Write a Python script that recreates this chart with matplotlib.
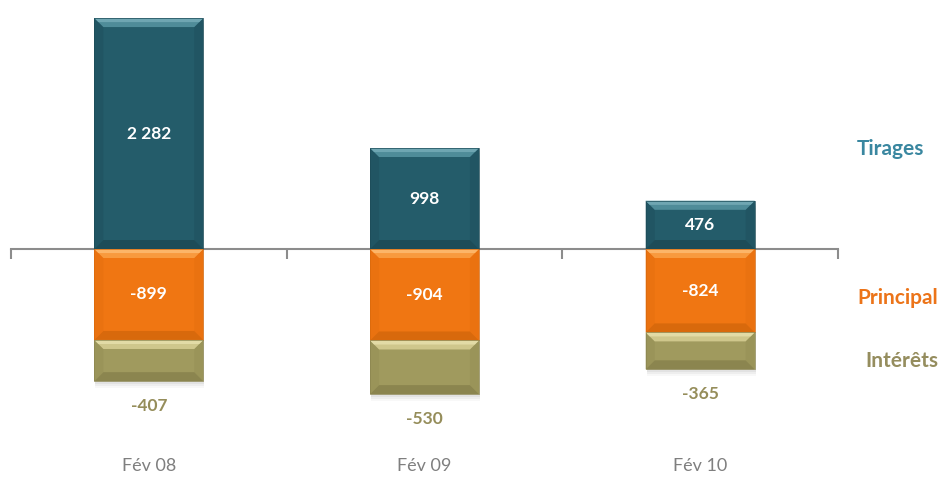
import matplotlib
matplotlib.use("Agg")
import matplotlib.pyplot as plt
from matplotlib.patches import Polygon, Rectangle

plt.rcParams['font.family'] = ['Lato', 'DejaVu Sans']

categories = ["Fév 08", "Fév 09", "Fév 10"]
tirages = [2282, 998, 476]
principal = [-899, -904, -824]
interets = [-407, -530, -365]
tirages_labels = ["2 282", "998", "476"]

W, H = 946, 478
fig = plt.figure(figsize=(W / 100, H / 100), dpi=100)
ax = fig.add_axes([11 / W, 0, 827 / W, 1])

px_per_unit = 0.1012
zero_px = 249
ax.set_xlim(-0.5, 2.5)
ax.set_ylim(-(H - zero_px) / px_per_unit, zero_px / px_per_unit)

# conversions from pixels to data units
dx_px = 3 / 827
dy_px = 1 / px_per_unit

bar_w = 0.395

COLORS = {
    "tirages": dict(face="#245C6A", top="#4F8C99", top2="#6FA6B2", bottom="#1D4C58", side="#215563"),
    "principal": dict(face="#F07612", top="#F89A3E", top2="#FCB568", bottom="#D8690C", side="#EA7210"),
    "interets": dict(face="#A09A5E", top="#CFC78C", top2="#E2DBA6", bottom="#8B854F", side="#9A9459"),
}


def bevel_bar(x, y0, y1, c):
    lo, hi = min(y0, y1), max(y0, y1)
    left, right = x - bar_w / 2, x + bar_w / 2
    # soft shadow
    for k, a in [(7, 0.04), (5, 0.06), (3, 0.08)]:
        ax.add_patch(Rectangle((left + dx_px, lo - k * dy_px), bar_w, hi - lo,
                               facecolor="#555555", alpha=a, edgecolor="none", zorder=2))
    ax.add_patch(Rectangle((left, lo), bar_w, hi - lo, facecolor=c["face"],
                           edgecolor="none", zorder=3))
    bx = 9 * dx_px
    by = min(9 * dy_px, (hi - lo) / 3)
    top = [(left, hi), (right, hi), (right - bx, hi - by), (left + bx, hi - by)]
    bottom = [(left, lo), (right, lo), (right - bx, lo + by), (left + bx, lo + by)]
    lside = [(left, hi), (left + bx, hi - by), (left + bx, lo + by), (left, lo)]
    rside = [(right, hi), (right - bx, hi - by), (right - bx, lo + by), (right, lo)]
    ax.add_patch(Polygon(lside, closed=True, facecolor=c["side"], edgecolor="none", zorder=4))
    ax.add_patch(Polygon(rside, closed=True, facecolor=c["side"], edgecolor="none", zorder=4))
    ax.add_patch(Polygon(bottom, closed=True, facecolor=c["bottom"], edgecolor="none", zorder=4))
    ax.add_patch(Polygon(top, closed=True, facecolor=c["top"], edgecolor="none", zorder=4))
    f = 0.45
    top2 = [(left, hi), (right, hi), (right - bx * f, hi - by * f), (left + bx * f, hi - by * f)]
    ax.add_patch(Polygon(top2, closed=True, facecolor=c["top2"], edgecolor="none", zorder=5))
    ax.add_patch(Rectangle((left, lo), bar_w, hi - lo, facecolor="none",
                           edgecolor=c["bottom"], linewidth=0.5, zorder=5))


for i in range(len(categories)):
    bevel_bar(i, 0, tirages[i], COLORS["tirages"])
    bevel_bar(i, 0, principal[i], COLORS["principal"])
    bevel_bar(i, principal[i], principal[i] + interets[i], COLORS["interets"])

    ax.text(i, tirages[i] / 2, tirages_labels[i], ha="center", va="center",
            color="white", fontsize=12.5, fontweight="bold", zorder=6)
    ax.text(i, principal[i] / 2, f"{principal[i]}", ha="center", va="center",
            color="white", fontsize=12.5, fontweight="bold", zorder=6)
    ax.text(i, principal[i] + interets[i] - 25 * dy_px, f"{interets[i]}", ha="center",
            va="center", color="#958D5A", fontsize=12.5, fontweight="bold", zorder=6)
    ax.text(i, -(466 - zero_px) * dy_px, categories[i], ha="center", va="center",
            color="#7F7F7F", fontsize=13, zorder=6)

# horizontal axis through zero with category separators
for s in ["top", "right", "left"]:
    ax.spines[s].set_visible(False)
ax.spines["bottom"].set_position(("data", 0))
ax.spines["bottom"].set_color("#8C8C8C")
ax.spines["bottom"].set_linewidth(1.5)
ax.spines["bottom"].set_zorder(1)
ax.set_xticks([-0.5, 0.5, 1.5, 2.5])
ax.tick_params(axis="x", direction="out", length=7, width=1.5, color="#8C8C8C",
               labelbottom=False)
ax.set_yticks([])
ax.patch.set_alpha(0)

# series names
fig.text(857 / W, 1 - 149 / H, "Tirages", color="#3A87A0", fontsize=15,
         fontweight="bold", ha="left", va="center")
fig.text(857 / W, 1 - 298 / H, "Principal", color="#EC7419", fontsize=15,
         fontweight="bold", ha="left", va="center")
fig.text(865 / W, 1 - 361 / H, "Intérêts", color="#958D5E", fontsize=15,
         fontweight="bold", ha="left", va="center")

fig.savefig("out.png", dpi=100)
